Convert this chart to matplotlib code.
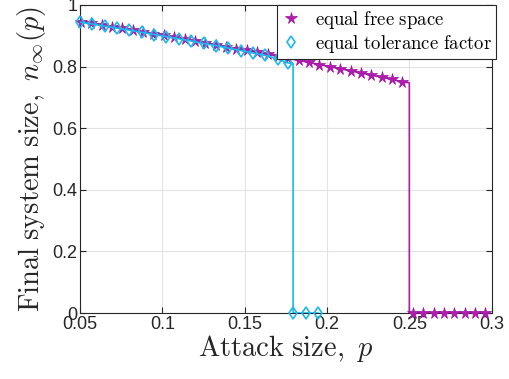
import matplotlib
matplotlib.use("Agg")
import matplotlib.pyplot as plt
from matplotlib.lines import Line2D

plt.rcParams['mathtext.fontset'] = 'cm'
plt.rcParams['font.family'] = ['Liberation Sans', 'DejaVu Sans']

# equal free space (stars)
p_free = [0.0505, 0.0568, 0.0631, 0.0694, 0.0757, 0.0820, 0.0883, 0.0946, 0.1009, 0.1072,
          0.1135, 0.1198, 0.1261, 0.1324, 0.1387, 0.1450, 0.1513, 0.1576, 0.1639, 0.1702,
          0.1765, 0.1828, 0.1891, 0.1954, 0.2017, 0.2080, 0.2143, 0.2206, 0.2269, 0.2332,
          0.2395, 0.2458,
          0.2521, 0.2584, 0.2647, 0.2710, 0.2773, 0.2836, 0.2899, 0.2962]
n_free = [0.9456, 0.9402, 0.9347, 0.9292, 0.9237, 0.9180, 0.9123, 0.9066, 0.9008, 0.8949,
          0.8890, 0.8830, 0.8770, 0.8709, 0.8647, 0.8585, 0.8522, 0.8459, 0.8395, 0.8330,
          0.8265, 0.8199, 0.8133, 0.8066, 0.7998, 0.7930, 0.7861, 0.7792, 0.7722, 0.7651,
          0.7580, 0.7508,
          0, 0, 0, 0, 0, 0, 0, 0]
pc_free = 0.25
nc_free = 0.747

# equal tolerance factor (diamonds)
p_tol = [0.05, 0.0575, 0.065, 0.0725, 0.08, 0.0875, 0.095, 0.1025, 0.11, 0.1175,
         0.125, 0.1325, 0.14, 0.1475, 0.155, 0.1625, 0.17, 0.176,
         0.1794, 0.1872, 0.1945]
n_tol = [0.944, 0.938, 0.931, 0.925, 0.918, 0.911, 0.904, 0.897, 0.890, 0.883,
         0.875, 0.868, 0.860, 0.852, 0.844, 0.836, 0.825, 0.812,
         0, 0, 0]
pc_tol = 0.1794
nc_tol = 0.809

c_free = '#B01CB0'
c_tol = '#1CB9EC'

fig = plt.figure(figsize=(5.10, 3.79), dpi=100)
ax = fig.add_axes([0.157, 0.174, 0.807, 0.813])

def with_drop(p, n, pc, nc):
    xs, ys = [], []
    for pi, ni in zip(p, n):
        if pi < pc:
            xs.append(pi); ys.append(ni)
    xs += [pc, pc]; ys += [nc, 0]
    for pi, ni in zip(p, n):
        if pi > pc:
            xs.append(pi); ys.append(ni)
    return xs, ys

lx, ly = with_drop(p_free, n_free, pc_free, nc_free)
ax.plot(lx, ly, color=c_free, lw=1.2, zorder=3)
ax.plot(p_free, n_free, ls='none', marker='*', ms=8.5, color=c_free,
        markeredgecolor='#9a149a', markeredgewidth=0.5, zorder=4, clip_on=False)

lx, ly = with_drop(p_tol, n_tol, pc_tol, nc_tol)
ax.plot(lx, ly, color=c_tol, lw=1.2, zorder=5)
ax.plot(p_tol, n_tol, ls='none', marker='d', ms=6.5, color=c_tol,
        markerfacecolor='none', markeredgewidth=1.2, zorder=6, clip_on=False)

ax.set_xlim(0.05, 0.3)
ax.set_ylim(0, 1)
ax.set_xticks([0.05, 0.1, 0.15, 0.2, 0.25, 0.3])
ax.set_xticklabels(['0.05', '0.1', '0.15', '0.2', '0.25', '0.3'])
ax.set_yticks([0, 0.2, 0.4, 0.6, 0.8, 1.0])
ax.set_yticklabels(['0', '0.2', '0.4', '0.6', '0.8', '1'])
ax.tick_params(direction='in', top=True, right=True, labelsize=13, colors='#262626',
               length=4, width=0.8, pad=2)
ax.grid(True, color='#e3e3e3', lw=0.8)
ax.set_axisbelow(True)
for s in ax.spines.values():
    s.set_color('#262626')
    s.set_linewidth(0.8)

ax.set_xlabel(r'$\mathrm{Attack\ size,}\ p$', fontsize=20.5, color='#262626', labelpad=0)
ax.set_ylabel(r'$\mathrm{Final\ system\ size,}\ n_\infty(p)$', fontsize=20.5,
              color='#262626', labelpad=3)

handles = [Line2D([], [], ls='none', marker='*', ms=8.5, color=c_free,
                  markeredgecolor='#9a149a', markeredgewidth=0.5),
           Line2D([], [], ls='none', marker='d', ms=6.5, color=c_tol,
                  markerfacecolor='none', markeredgewidth=1.2)]
leg = ax.legend(handles, [r'$\mathrm{equal\ free\ space}$', r'$\mathrm{equal\ tolerance\ factor}$'],
                loc='upper right', bbox_to_anchor=(1.01, 1.0), fontsize=13.5, frameon=True,
                fancybox=False, edgecolor='#262626', framealpha=1, handlelength=1.0,
                handletextpad=0.8, borderpad=0.2, labelspacing=0.12, borderaxespad=0)
leg.get_frame().set_linewidth(0.8)
leg.set_zorder(10)

fig.savefig('out.png', dpi=100)
